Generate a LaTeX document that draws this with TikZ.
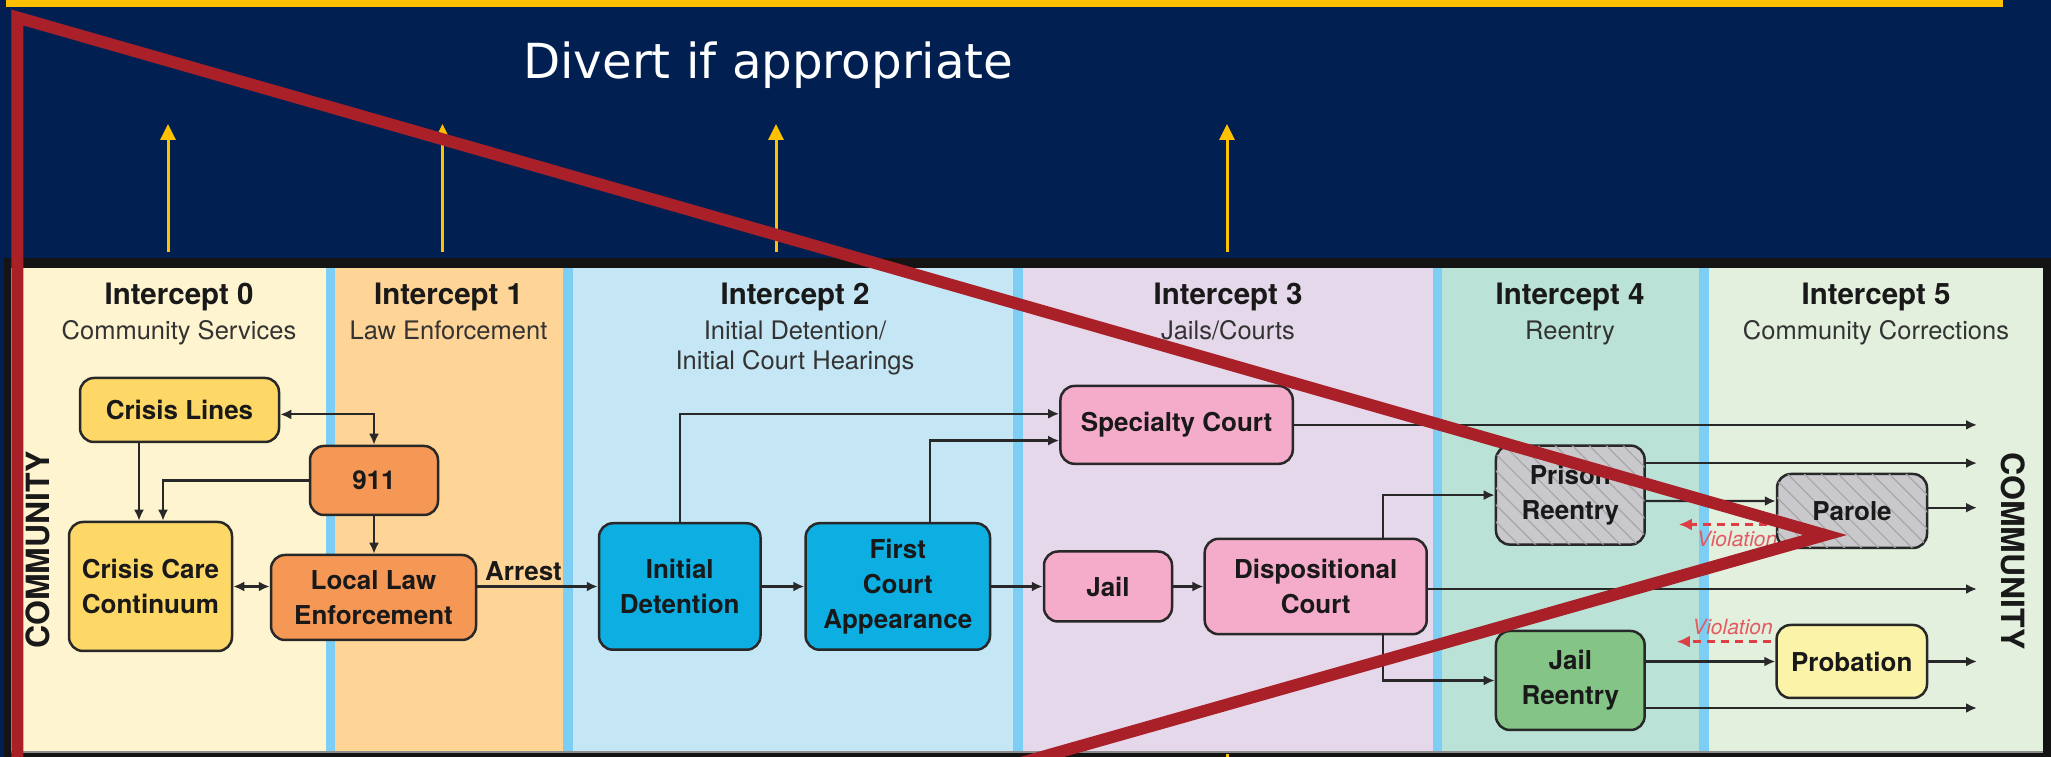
\documentclass[tikz,border=0pt]{standalone}
\usepackage{fontspec}
\setmainfont{TeX Gyre Heros}
\newfontfamily\divertfont{DejaVu Sans}
\usetikzlibrary{arrows.meta,calc,patterns.meta}
\definecolor{navy}{RGB}{1,32,81}
\definecolor{gold}{RGB}{255,192,0}
\definecolor{funnelred}{RGB}{170,32,41}
\definecolor{sepblue}{RGB}{124,206,245}
\definecolor{zerobg}{RGB}{255,244,208}
\definecolor{onebg}{RGB}{255,212,151}
\definecolor{twobg}{RGB}{197,230,245}
\definecolor{threebg}{RGB}{229,216,234}
\definecolor{fourbg}{RGB}{187,226,214}
\definecolor{fivebg}{RGB}{226,240,221}
\definecolor{crisisfill}{RGB}{254,216,102}
\definecolor{lawfill}{RGB}{245,152,86}
\definecolor{courtfill}{RGB}{13,174,226}
\definecolor{jailfill}{RGB}{245,172,202}
\definecolor{prisonfill}{RGB}{201,201,205}
\definecolor{reentryfill}{RGB}{132,196,134}
\definecolor{probfill}{RGB}{251,244,168}
\definecolor{violred}{RGB}{222,62,68}
\definecolor{inkline}{RGB}{40,40,40}

\begin{document}
\begin{tikzpicture}[x=1pt,y=1pt,
  box/.style={draw=inkline,line width=2.5pt,rounded corners=14pt,inner sep=0pt,align=center,text=black!90,font=\fontsize{26}{35}\selectfont\bfseries},
  hatched/.style={box,fill=prisonfill,postaction={pattern={Lines[angle=-45,distance=12pt,line width=1.2pt]},pattern color=black!35}},
  arr/.style={draw=inkline,line width=2.2pt,-{Latex[length=11pt,width=10pt]}},
  biarr/.style={arr,{Latex[length=11pt,width=10pt]}-{Latex[length=11pt,width=10pt]}},
  violarr/.style={draw=violred,line width=2.5pt,dash pattern=on 8pt off 6pt,-{Latex[length=13pt,width=12pt]}},
  divarrow/.style={draw=gold,line width=3pt,-{Triangle[length=16pt,width=15pt]}},
  headtitle/.style={anchor=base,inner sep=0pt,font=\fontsize{29.5}{31}\selectfont\bfseries,text=black!90},
  headsub/.style={anchor=base,inner sep=0pt,font=\fontsize{25.5}{30}\selectfont,text=black!80},
  violtext/.style={inner sep=0pt,font=\fontsize{21}{23}\selectfont\itshape,text=violred!85},
  sidetext/.style={inner sep=0pt,font=\fontsize{32}{34}\selectfont\bfseries,text=black!90}]
\useasboundingbox (0,0) rectangle (2051,757);
\fill[navy] (0,0) rectangle (2051,757);
\fill[gold] (6,750) rectangle (2003,757);
\fill[black!92] (4,0) rectangle (2051,499);
\fill[zerobg] (11,6) rectangle (326,489);
\fill[sepblue] (326,6) rectangle (335,489);
\fill[onebg] (335,6) rectangle (563,489);
\fill[sepblue] (563,6) rectangle (573,489);
\fill[twobg] (573,6) rectangle (1013,489);
\fill[sepblue] (1013,6) rectangle (1023,489);
\fill[threebg] (1023,6) rectangle (1433,489);
\fill[sepblue] (1433,6) rectangle (1442,489);
\fill[fourbg] (1442,6) rectangle (1699,489);
\fill[sepblue] (1699,6) rectangle (1709,489);
\fill[fivebg] (1709,6) rectangle (2043,489);
\fill[black!45] (11,4) rectangle (2043,6);
\fill[gold] (1225.5,0) rectangle (1228.5,3);

\node[anchor=base west,inner sep=0pt,font=\divertfont\fontsize{48.3}{50}\selectfont,text=white] (divert) at (523,678.7) {Divert if appropriate};
\coordinate (up0) at (168,505);
\coordinate (up1) at (442.5,505);
\coordinate (up2) at (776,505);
\coordinate (up3) at (1227,505);
\draw[divarrow] (up0) -- ++(0,128);
\draw[divarrow] (up1) -- ++(0,128);
\draw[divarrow] (up2) -- ++(0,128);
\draw[divarrow] (up3) -- ++(0,128);

\node[headtitle] (title0) at (179,452) {Intercept 0};
\node[headsub] (sub0) at (179,417) {Community Services};
\node[headtitle] (title1) at (448.5,452) {Intercept 1};
\node[headsub] (sub1) at (448.5,417) {Law Enforcement};
\node[headtitle] (title2) at (795,452) {Intercept 2};
\node[headsub] (sub2a) at (795,417) {Initial Detention/};
\node[headsub] (sub2b) at (795,387) {Initial Court Hearings};
\node[headtitle] (title3) at (1228,452) {Intercept 3};
\node[headsub] (sub3) at (1228,417) {Jails/Courts};
\node[headtitle] (title4) at (1570,452) {Intercept 4};
\node[headsub] (sub4) at (1570,417) {Reentry};
\node[headtitle] (title5) at (1876,452) {Intercept 5};
\node[headsub] (sub5) at (1876,417) {Community Corrections};

\node[sidetext,rotate=90] (commleft) at (38,207) {COMMUNITY};
\node[sidetext,rotate=-90] (commright) at (2013,206) {COMMUNITY};
\node[violtext] (violparole) at (1737,218) {Violation};
\node[violtext] (violprob) at (1732.5,130) {Violation};

\node[box,fill=crisisfill,minimum width=199pt,minimum height=64pt] (crisislines) at (179.5,347) {Crisis Lines};
\node[box,fill=lawfill,minimum width=128pt,minimum height=69pt] (nineoneone) at (374,276.5) {911};
\node[box,fill=crisisfill,minimum width=163pt,minimum height=129pt] (crisiscare) at (150.5,170.5) {Crisis Care\\Continuum};
\node[box,fill=lawfill,minimum width=205pt,minimum height=85pt] (lawenf) at (373.5,159.5) {Local Law\\Enforcement};
\node[box,fill=courtfill,minimum width=161.5pt,minimum height=126.5pt] (initdet) at (679.75,170.5) {Initial\\Detention};
\node[box,fill=courtfill,minimum width=184.4pt,minimum height=126.5pt] (firstcourt) at (897.8,170.5) {First\\Court\\Appearance};
\node[box,fill=jailfill,minimum width=232.3pt,minimum height=77.8pt] (specialty) at (1176.6,332.1) {Specialty Court};
\node[box,fill=jailfill,minimum width=128pt,minimum height=70pt] (jail) at (1108,170.5) {Jail};
\node[box,fill=jailfill,minimum width=222pt,minimum height=95.4pt] (dispcourt) at (1315.7,170.5) {Dispositional\\Court};
\node[hatched,minimum width=148.7pt,minimum height=99pt] (prisonre) at (1570.3,261.9) {Prison\\Reentry};
\node[hatched,minimum width=150pt,minimum height=74pt] (parole) at (1852,246) {Parole};
\node[box,fill=reentryfill,minimum width=148.7pt,minimum height=99pt] (jailre) at (1570.3,76.5) {Jail\\Reentry};
\node[box,fill=probfill,minimum width=150.4pt,minimum height=73pt] (probation) at (1851.8,95.5) {Probation};
\node[anchor=base west,inner sep=0pt,font=\fontsize{26}{30}\selectfont\bfseries,text=black!90] (arrest) at (485,176.5) {Arrest};
\coordinate (exit) at (1977,0);

\draw[biarr] ([yshift=-4.4pt]crisislines.east) -| (nineoneone.north);
\draw[arr] ([xshift=-40.5pt]crisislines.south) -- ([xshift=-40.5pt]crisislines.south |- crisiscare.north);
\draw[arr] (nineoneone.west) -| ([xshift=12.5pt]crisiscare.north);
\draw[arr] (nineoneone.south) -- (nineoneone.south |- lawenf.north);
\draw[biarr] (crisiscare.east) -- (crisiscare.east -| lawenf.west);
\draw[arr] (lawenf.east |- initdet.west) -- (initdet.west);
\draw[arr] (initdet.east) -- (firstcourt.west);
\draw[arr] (initdet.north) |- ([yshift=11.1pt]specialty.west);
\draw[arr] ([xshift=32pt]firstcourt.north) |- ([yshift=-15.7pt]specialty.west);
\draw[arr] (firstcourt.east) -- (jail.west);
\draw[arr] (jail.east) -- (dispcourt.west);
\draw[arr] ([xshift=67pt]dispcourt.north) |- (prisonre.west);
\draw[arr] ([xshift=67pt]dispcourt.south) |- (jailre.west);
\draw[arr] (specialty.east) -- (specialty.east -| exit);
\draw[arr] ([yshift=-2.5pt]dispcourt.east) -- ([yshift=-2.5pt]dispcourt.east -| exit);
\draw[arr] ([yshift=32pt]prisonre.east) -- ([yshift=32pt]prisonre.east -| exit);
\draw[arr] ([yshift=-6pt]prisonre.east) -- ([yshift=10pt]parole.west);
\draw[arr] ([yshift=3.3pt]parole.east) -- ([yshift=3.3pt]parole.east -| exit);
\draw[arr] (jailre.east |- probation.west) -- (probation.west);
\draw[arr] (probation.east) -- (probation.east -| exit);
\draw[arr] ([yshift=-27.5pt]jailre.east) -- ([yshift=-27.5pt]jailre.east -| exit);
\draw[violarr] ([shift={(-9pt,-13.5pt)}]parole.west) -- ++(-88,0);
\draw[violarr] ([shift={(-4.6pt,19.9pt)}]probation.west) -- ++(-94,0);

\begin{scope}
\clip (0,0) rectangle (2051,757);
\draw[funnelred,line width=12pt,line join=miter] (17.3,-290.5) -- (17.3,739.5) -- (1825,222) -- cycle;
\end{scope}
\end{tikzpicture}
\end{document}
